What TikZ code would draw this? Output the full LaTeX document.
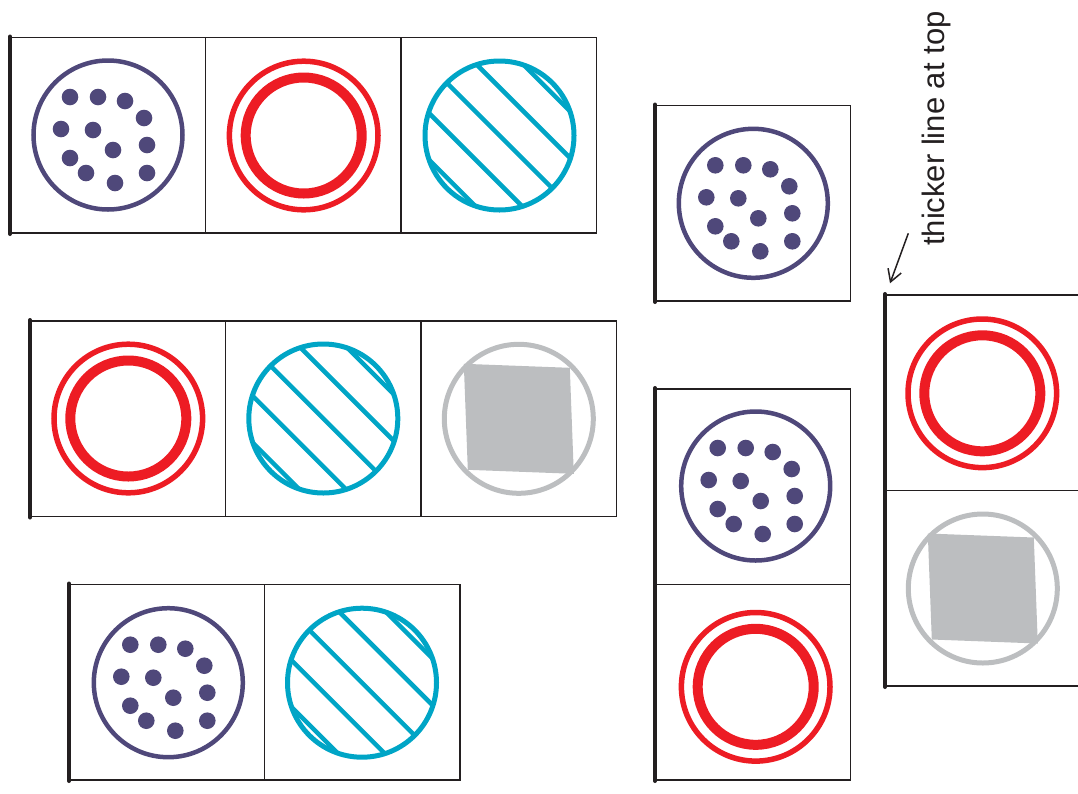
\documentclass[tikz,border=0pt]{standalone}
\usepackage{fontspec}
\setmainfont{Liberation Sans}
\usetikzlibrary{arrows.meta}
\definecolor{cpurple}{RGB}{79,72,122}
\definecolor{cred}{RGB}{237,28,36}
\definecolor{cteal}{RGB}{0,165,198}
\definecolor{cgray}{RGB}{188,190,192}
\definecolor{cline}{RGB}{35,31,32}
\tikzset{
  boxline/.style={draw=cline, line width=1.2pt},
  thickbar/.style={draw=cline, line width=4pt, line cap=round},
  pics/mydots/.style={code={
    \draw[cpurple, line width=4.5pt] (0,0) circle[radius=74.5];
    \foreach \a/\b in {-38/-38,-10/-38,17/-34,36/-17,-47/-6,-15/-5,5/15,39/10,-38/23,-22/38,7/48,39/38}
      \fill[cpurple] (\a,\b) circle[radius=8.3];
  }},
  pics/myring/.style={code={
    \draw[cred, line width=5.5pt] (0,0) circle[radius=74.3];
    \draw[cred, line width=10pt] (0,0) circle[radius=58];
  }},
  pics/myhatch/.style={code={
    \begin{scope}
      \clip (0,0) circle[radius=74.5];
      \foreach \d in {-67,-34,0,34,67}
        \draw[cteal, line width=4.5pt] ({\d*0.7071-100},{-\d*0.7071-100}) -- ({\d*0.7071+100},{-\d*0.7071+100});
    \end{scope}
    \draw[cteal, line width=5pt] (0,0) circle[radius=74.5];
  }},
  pics/mysquare/.style={code={
    \draw[cgray, line width=5pt] (0,0) circle[radius=74.5];
    \fill[cgray] (-55,-55) -- (51,-51) -- (55,55) -- (-51,51) -- cycle;
  }}
}
\begin{document}
\begin{tikzpicture}[x=1pt,y=-1pt]
\useasboundingbox (0,0) rectangle (1078,793);
\clip (0,0) rectangle (1078,793);
% row 1
\draw[boxline] (10,37.5) rectangle (596.5,233);
\draw[boxline] (205.5,37.5) -- (205.5,233);
\draw[boxline] (401,37.5) -- (401,233);
\draw[thickbar] (10,36.5) -- (10,234);
\pic at (108,135) {mydots};
\pic at (303.7,135.5) {myring};
\pic at (499.5,135.5) {myhatch};
% row 2
\draw[boxline] (30,321) rectangle (616.5,516.5);
\draw[boxline] (225.5,321) -- (225.5,516.5);
\draw[boxline] (421,321) -- (421,516.5);
\draw[thickbar] (30,320) -- (30,517.5);
\pic at (128.3,418.5) {myring};
\pic at (323.3,418.5) {myhatch};
\pic at (518.8,418.8) {mysquare};
% row 3
\draw[boxline] (69,584.5) rectangle (460,780);
\draw[boxline] (264.5,584.5) -- (264.5,780);
\draw[thickbar] (69,583.5) -- (69,781);
\pic at (168.3,682.7) {mydots};
\pic at (362,682.7) {myhatch};
% column 1
\draw[boxline] (655,105.5) rectangle (850.5,301);
\draw[thickbar] (655,104.5) -- (655,302);
\pic at (753.3,203.3) {mydots};
% column 2
\draw[boxline] (655,389) rectangle (850.5,780);
\draw[boxline] (655,584.5) -- (850.5,584.5);
\draw[thickbar] (655,388) -- (655,781);
\pic at (755.7,486) {mydots};
\pic at (755.7,686.8) {myring};
% column 3
\draw[boxline] (885,295) rectangle (1080.5,686);
\draw[boxline] (885,490.5) -- (1080.5,490.5);
\draw[thickbar] (885,294) -- (885,687);
\pic at (982.3,393.3) {myring};
\pic at (982.8,588.5) {mysquare};
% label
\node[rotate=90, anchor=base west, inner sep=0pt, text=cline, font=\fontsize{31}{36}\selectfont] (lbl) at (944,246) {thicker line at top};
\coordinate (tail) at (908.3,233.3);
\coordinate (tip) at (890,283.3);
\draw[cline, line width=1.5pt, -{Straight Barb[length=12pt,width=14pt]}] (tail) -- (tip);
\end{tikzpicture}
\end{document}
